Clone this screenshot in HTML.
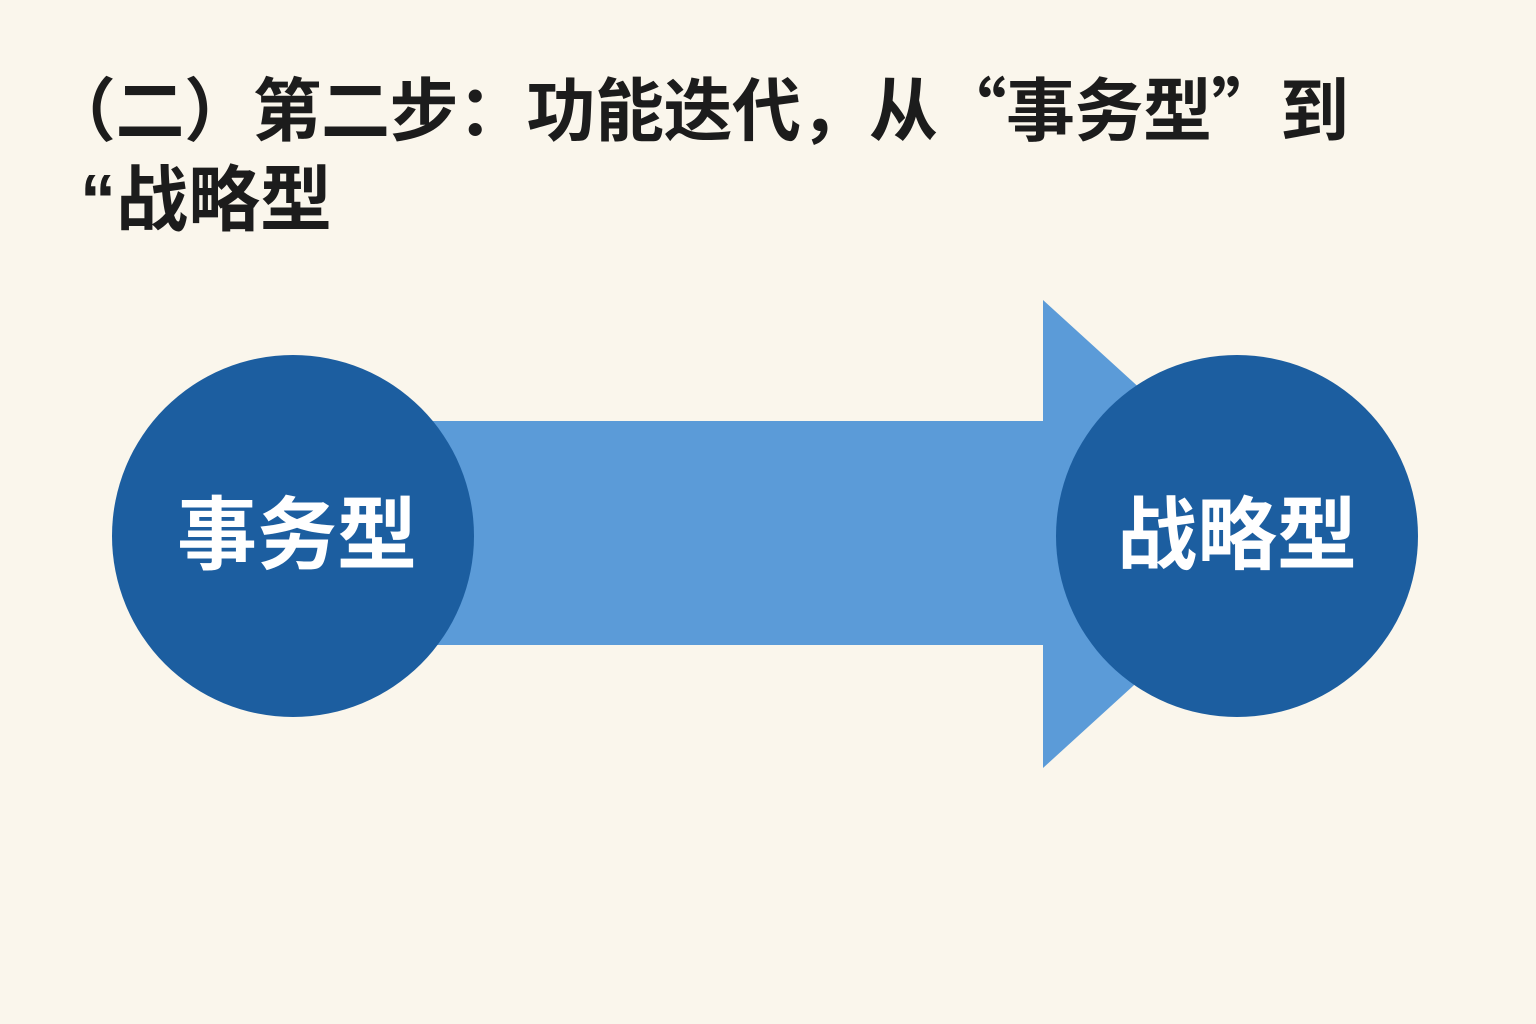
<!DOCTYPE html>
<html><head><meta charset="utf-8"><style>
html,body{margin:0;padding:0;}
body{width:1536px;height:1024px;background:#faf6ec;position:relative;overflow:hidden;font-family:"Liberation Sans","Noto Sans CJK SC",sans-serif;}
.t{position:absolute;font-weight:bold;color:#1c1c1c;white-space:nowrap;line-height:1;}
</style></head><body>
<div class="t" style="top:71px;left:47px;font-size:69px;letter-spacing:-0.5px;font-family:'Noto Sans CJK SC',sans-serif;">（二）第二步：功能迭代，从“事务型”到</div>
<div class="t" style="top:165px;left:80px;font-size:72px;">“战略型</div>
<svg width="1536" height="1024" style="position:absolute;left:0;top:0;">
<rect x="430" y="421" width="640" height="224" fill="#5b9bd8"/>
<polygon points="1043,300 1300,534 1043,768" fill="#5b9bd8"/>
<circle cx="293" cy="536" r="181" fill="#1c5ea0"/>
<circle cx="1237" cy="536" r="181" fill="#1c5ea0"/>
<text x="297" y="563" font-size="80" font-weight="bold" fill="#fff" text-anchor="middle" font-family="Liberation Sans, Noto Sans CJK SC, sans-serif">事务型</text>
<text x="1237" y="563" font-size="80" font-weight="bold" fill="#fff" text-anchor="middle" font-family="Liberation Sans, Noto Sans CJK SC, sans-serif">战略型</text>
</svg>
</body></html>
